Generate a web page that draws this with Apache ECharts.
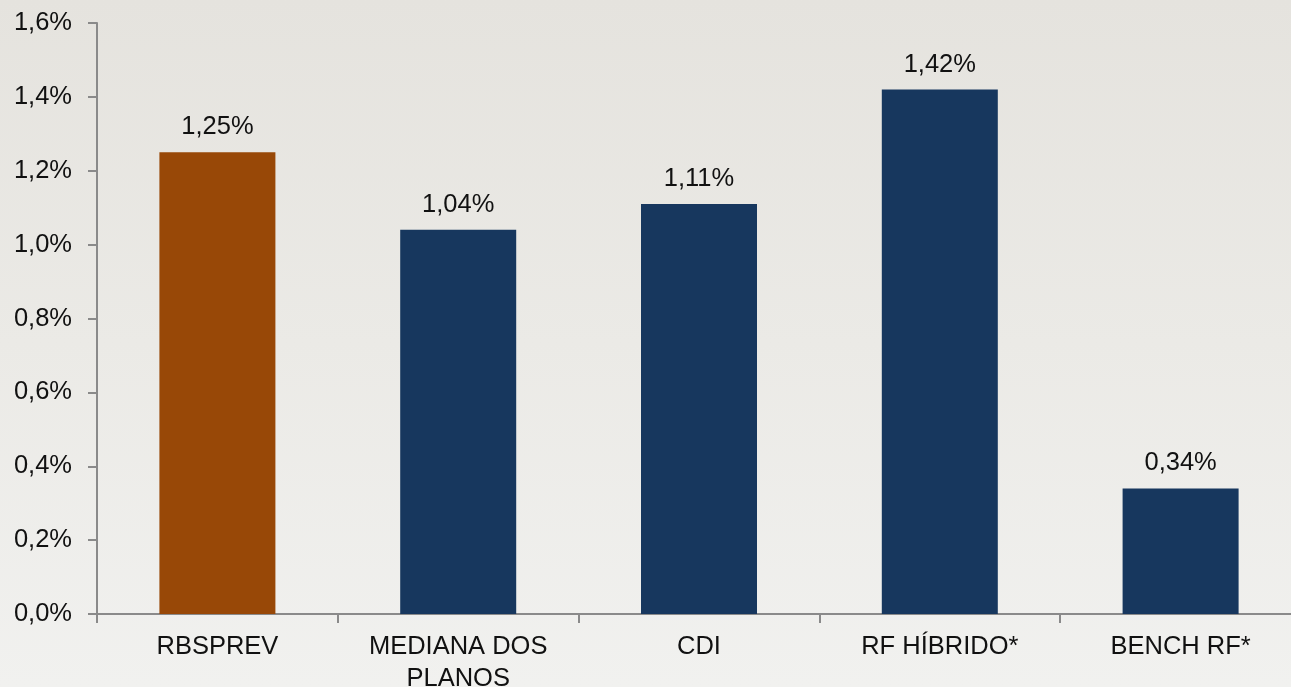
<!DOCTYPE html>
<html>
<head>
<meta charset="utf-8">
<script src="https://cdn.jsdelivr.net/npm/echarts@6/dist/echarts.min.js"></script>
<style>
  html, body { margin: 0; padding: 0; }
  body {
    width: 1291px; height: 687px; overflow: hidden;
    background: linear-gradient(180deg, #e5e3de 0%, #ebeae6 50%, #f1f1ef 100%);
  }
  /* a área do gráfico passa um pouco da borda direita, como no original */
  #chart { width: 1311px; height: 687px; }
</style>
</head>
<body>
<div id="chart"></div>
<script>
// dados do gráfico
const categories = ['RBSPREV', 'MEDIANA DOS\nPLANOS', 'CDI', 'RF HÍBRIDO*', 'BENCH RF*'];
const values = [1.25, 1.04, 1.11, 1.42, 0.34];
const barColors = ['#984807', '#17375e', '#17375e', '#17375e', '#17375e'];

const fmt = v => v.toFixed(1).replace('.', ',') + '%';
const fmtLabel = v => v.toFixed(2).replace('.', ',') + '%';

const chart = echarts.init(document.getElementById('chart'));
chart.setOption({
  backgroundColor: 'transparent',
  animation: false,
  textStyle: { fontFamily: 'Arial, "Liberation Sans", sans-serif' },
  // sem isso o v6 encolhe o grid para caber os rótulos de duas linhas
  grid: { left: 97, top: 23, width: 1204, height: 591, outerBoundsMode: 'none', containLabel: false },
  xAxis: {
    type: 'category',
    data: categories,
    axisLine: { lineStyle: { color: '#8a8a8a', width: 2 } },
    axisTick: { show: true, length: 9, lineStyle: { color: '#8a8a8a', width: 2 } },
    axisLabel: { color: '#111', fontSize: 25.5, margin: 17, lineHeight: 32 }
  },
  yAxis: {
    type: 'value',
    min: 0, max: 1.6, interval: 0.2,
    splitLine: { show: false },
    axisLine: { show: true, lineStyle: { color: '#8a8a8a', width: 2 } },
    axisTick: { show: true, length: 9, lineStyle: { color: '#8a8a8a', width: 2 } },
    axisLabel: { color: '#111', fontSize: 25.5, margin: 25, formatter: fmt }
  },
  series: [{
    type: 'bar',
    barWidth: 116,
    data: values.map((v, i) => ({ value: v, itemStyle: { color: barColors[i] } })),
    label: {
      show: true, position: 'top', distance: 12,
      color: '#111', fontSize: 25.5,
      formatter: p => fmtLabel(p.value)
    }
  }]
});
</script>
</body>
</html>
